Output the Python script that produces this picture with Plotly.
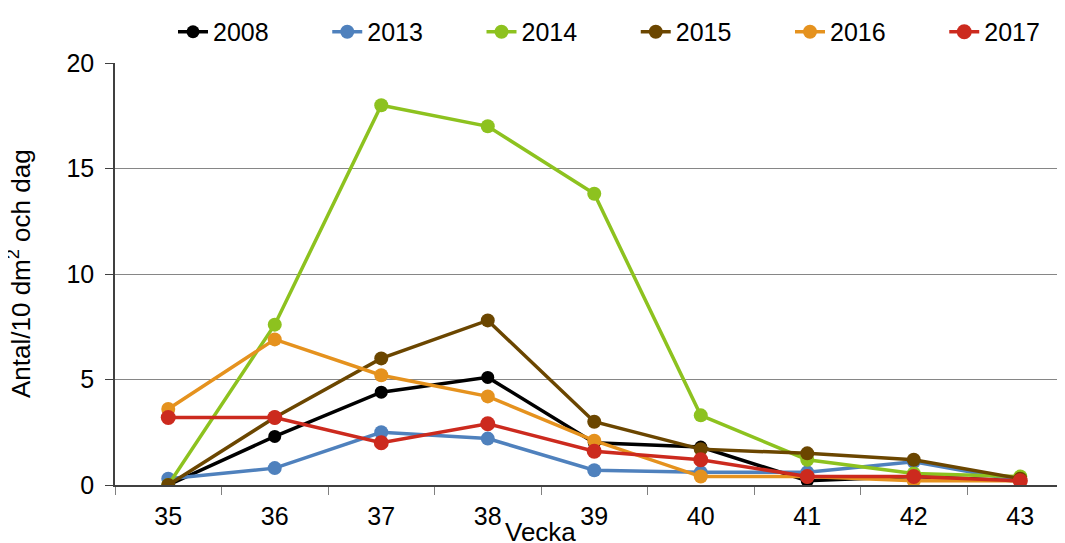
import plotly.graph_objects as go

weeks = ["35", "36", "37", "38", "39", "40", "41", "42", "43"]
y2008 = [0, 2.3, 4.4, 5.1, 2.0, 1.8, 0.2, 0.4, 0.2]
y2013 = [0.3, 0.8, 2.5, 2.2, 0.7, 0.6, 0.6, 1.1, 0.2]
y2014 = [0, 7.6, 18.0, 17.0, 13.8, 3.3, 1.2, 0.55, 0.4]
y2015 = [0, 3.2, 6.0, 7.8, 3.0, 1.7, 1.5, 1.2, 0.3]
y2016 = [3.6, 6.9, 5.2, 4.2, 2.1, 0.4, 0.4, 0.2, 0.2]
y2017 = [3.2, 3.2, 2.0, 2.9, 1.6, 1.2, 0.4, 0.4, 0.2]
years = ["2008", "2013", "2014", "2015", "2016", "2017"]

series = [
    (y2008, "#000000", 13),
    (y2013, "#4F81BD", 14),
    (y2014, "#8DC21F", 14),
    (y2015, "#6B4600", 14),
    (y2016, "#E5921E", 14),
    (y2017, "#CC2A1E", 15),
]

pad = "\u00a0" * 7 + "\u2009"
fig = go.Figure()
for i, (vals, color, msize) in enumerate(series):
    label = years[i] + (pad if i < len(series) - 1 else "")
    fig.add_trace(go.Scatter(
        x=weeks, y=vals, name=label, mode="lines+markers",
        line=dict(color=color, width=3.5),
        marker=dict(color=color, size=msize),
    ))

font = dict(family="Arial, Liberation Sans, sans-serif", size=25, color="#000000")
tfont = dict(family="Arial, Liberation Sans, sans-serif", size=26, color="#000000")

# page body adds an 8px offset, so figure is 8px smaller and margins shifted
fig.update_layout(
    width=1057, height=535,
    margin=dict(l=107, r=0, t=55, b=58),
    plot_bgcolor="white", paper_bgcolor="white",
    font=font,
    showlegend=True,
    legend=dict(orientation="h", x=0.52, xanchor="center",
                y=1.128, yanchor="top",
                font=font, bgcolor="rgba(0,0,0,0)"),
    xaxis=dict(type="category", range=[-0.5, 8.42], showgrid=False,
               showline=True, linecolor="#404040", linewidth=1.5,
               ticks="outside", tickson="boundaries", ticklen=8, tickcolor="#808080",
               tickfont=font, ticklabelstandoff=8),
    yaxis=dict(range=[0, 20], tickvals=[0, 5, 10, 15, 20],
               showgrid=True, gridcolor="#868686", gridwidth=1,
               showline=True, linecolor="#404040", linewidth=1.5,
               ticks="outside", ticklen=8, tickcolor="#404040",
               tickfont=font, zeroline=False, ticklabelstandoff=6),
    annotations=[
        dict(text="Vecka", x=(540 - 115) / 950, y=(485 - 532) / 422, xref="paper", yref="paper",
             showarrow=False, font=tfont, xanchor="center", yanchor="middle"),
        dict(text="Antal/10 dm<sup>2</sup> och dag", x=(19 - 115) / 950, y=0.5,
             xref="paper", yref="paper", showarrow=False, font=tfont, textangle=-90,
             xanchor="center", yanchor="middle"),
    ],
)

fig.write_html("out.html")
